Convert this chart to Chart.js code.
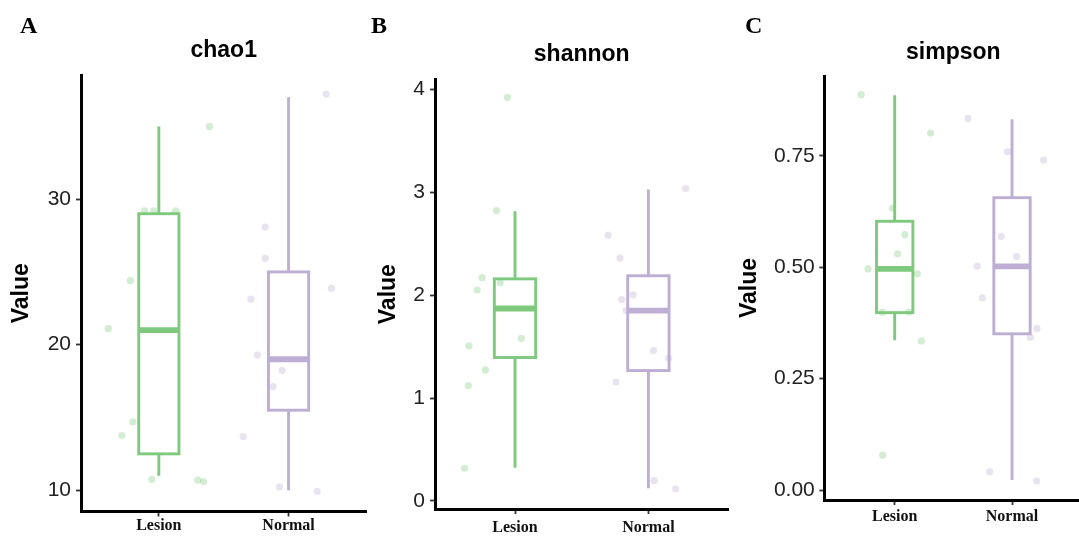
<!DOCTYPE html>
<html>
<head>
<meta charset="utf-8">
<script src="https://cdn.jsdelivr.net/npm/chart.js@4.4.1/dist/chart.umd.min.js"></script>
<style>
html,body{margin:0;padding:0;background:#fff;overflow:hidden;width:1079px;height:536px;}
#wrap{position:relative;width:1079px;height:536px;overflow:hidden;background:#fff;}
canvas{position:absolute;top:0;}
.lab{position:absolute;font-family:'Liberation Serif','Times New Roman',serif;font-weight:bold;font-size:24px;line-height:24px;color:#000;}
</style>
</head>
<body>
<div id="wrap">
<canvas id="cA" width="370" height="536" style="left:0px;width:370px;height:536px"></canvas>
<canvas id="cB" width="360" height="536" style="left:372px;width:360px;height:536px"></canvas>
<canvas id="cC" width="352" height="536" style="left:734px;width:352px;height:536px"></canvas>
<div class="lab" style="left:20px;top:13px">A</div>
<div class="lab" style="left:371px;top:13px">B</div>
<div class="lab" style="left:745px;top:13px">C</div>
</div>
<script>
// ---------- DATA ----------
const categories = ['Lesion', 'Normal'];
const yTitle = 'Value';

// chao1
const chao1Lesion       = [35.0, 29.2, 29.2, 29.2, 24.4, 21.1, 14.7, 13.76, 10.75, 10.7, 10.6];
const chao1LesionJitter = [0.39, -0.11, -0.04, 0.13, -0.22, -0.39, -0.20, -0.285, -0.055, 0.30, 0.345];
const chao1Normal       = [37.22, 28.08, 25.93, 23.87, 23.13, 19.29, 18.22, 17.12, 13.69, 10.23, 9.93];
const chao1NormalJitter = [0.29, -0.18, -0.18, 0.33, -0.29, -0.24, -0.05, -0.12, -0.35, -0.07, 0.22];
// box stats: [min, q1, median, q3, max]
const chao1LesionBox = [11.0, 12.5, 21.0, 29.0, 35.0];
const chao1NormalBox = [10.0, 15.5, 19.0, 25.0, 37.0];
const chao1Ticks = [10, 20, 30];
const chao1TickLabels = ['10', '20', '30'];
const chao1Range = [8.54, 38.53];

// shannon
const shannonLesion       = [3.922, 2.822, 2.17, 2.12, 2.05, 1.58, 1.506, 1.273, 1.12, 0.318];
const shannonLesionJitter = [-0.057, -0.139, -0.247, -0.111, -0.284, 0.047, -0.346, -0.222, -0.35, -0.378];
const shannonNormal       = [3.036, 2.583, 2.36, 2.003, 1.957, 1.85, 1.461, 1.387, 1.156, 0.197, 0.117];
const shannonNormalJitter = [0.28, -0.302, -0.213, -0.115, -0.2, -0.167, 0.038, 0.152, -0.243, 0.043, 0.204];
const shannonLesionBox = [0.324, 1.394, 1.87, 2.158, 2.815];
const shannonNormalBox = [0.123, 1.267, 1.85, 2.188, 3.026];
const shannonTicks = [0, 1, 2, 3, 4];
const shannonTickLabels = ['0', '1', '2', '3', '4'];
const shannonRange = [-0.078, 4.097];

// simpson
const simpsonLesion       = [0.887, 0.801, 0.632, 0.573, 0.530, 0.496, 0.485, 0.399, 0.399, 0.3345, 0.0785];
const simpsonLesionJitter = [-0.286, 0.306, -0.02, 0.087, 0.025, -0.227, 0.193, -0.106, 0.121, 0.227, -0.103];
const simpsonNormal       = [0.834, 0.759, 0.7404, 0.5689, 0.524, 0.5022, 0.431, 0.3627, 0.3425, 0.041, 0.0202];
const simpsonNormalJitter = [-0.375, -0.039, 0.269, -0.092, 0.039, -0.297, -0.252, 0.213, 0.157, -0.19, 0.21];
const simpsonLesionBox = [0.336, 0.398, 0.4964, 0.603, 0.886];
const simpsonNormalBox = [0.0224, 0.3505, 0.5016, 0.656, 0.832];
const simpsonTicks = [0, 0.25, 0.5, 0.75];
const simpsonTickLabels = ['0.00', '0.25', '0.50', '0.75'];
const simpsonRange = [-0.0224, 0.929];

// ---------- STYLE ----------
const lineColors  = ['#7FC97F', '#BEAED4'];
const pointColors = ['rgba(127,201,127,0.34)', 'rgba(190,174,212,0.34)'];
const sansFont = "'Liberation Sans', Arial, Helvetica, sans-serif";
const serifFont = "'Liberation Serif', 'Times New Roman', serif";

function makeBoxPlugin(boxes) {
  return {
    id: 'boxplots',
    beforeDatasetsDraw(chart) {
      const ctx = chart.ctx;
      const xs = chart.scales.x, ys = chart.scales.y;
      const boxWidth = 0.31, lw = 2.9, mw = 5.8;
      boxes.forEach((b, i) => {
        const cx = xs.getPixelForValue(i + 1);
        const half = Math.abs(xs.getPixelForValue(i + 1 + boxWidth / 2) - cx);
        const pMin = ys.getPixelForValue(b[0]);
        const pQ1 = ys.getPixelForValue(b[1]);
        const pMed = ys.getPixelForValue(b[2]);
        const pQ3 = ys.getPixelForValue(b[3]);
        const pMax = ys.getPixelForValue(b[4]);
        ctx.save();
        ctx.strokeStyle = lineColors[i];
        ctx.lineWidth = lw;
        ctx.lineCap = 'butt';
        ctx.beginPath();
        ctx.moveTo(cx, pMax); ctx.lineTo(cx, pQ3);
        ctx.moveTo(cx, pQ1); ctx.lineTo(cx, pMin);
        ctx.stroke();
        ctx.fillStyle = '#ffffff';
        ctx.fillRect(cx - half, pQ3, 2 * half, pQ1 - pQ3);
        ctx.strokeRect(cx - half, pQ3, 2 * half, pQ1 - pQ3);
        ctx.lineWidth = mw;
        ctx.beginPath();
        ctx.moveTo(cx - half, pMed); ctx.lineTo(cx + half, pMed);
        ctx.stroke();
        ctx.restore();
      });
    }
  };
}

function pts(vals, jit, k) {
  return vals.map((v, j) => ({ x: k + jit[j], y: v }));
}

function makeChart(id, P) {
  const gridOpts = { drawOnChartArea: false, drawTicks: true, tickLength: 5, tickColor: '#333333', tickWidth: 1.8 };
  const borderOpts = { display: true, color: '#000000', width: 3 };
  new Chart(document.getElementById(id), {
    type: 'scatter',
    data: {
      datasets: [
        { label: categories[0], data: pts(P.lesion, P.lesionJitter, 1), backgroundColor: pointColors[0], borderWidth: 0, pointRadius: 3.6, pointHoverRadius: 3.6 },
        { label: categories[1], data: pts(P.normal, P.normalJitter, 2), backgroundColor: pointColors[1], borderWidth: 0, pointRadius: 3.6, pointHoverRadius: 3.6 }
      ]
    },
    plugins: [makeBoxPlugin([P.lesionBox, P.normalBox])],
    options: {
      responsive: false,
      animation: false,
      events: [],
      layout: { padding: { left: 0, right: P.padRight, top: 0, bottom: 0 } },
      plugins: {
        legend: { display: false },
        tooltip: { enabled: false },
        title: {
          display: true, text: P.title, fullSize: false, color: '#000',
          font: { family: sansFont, size: 23, weight: 'bold' },
          padding: { top: P.titleTop, bottom: P.titleBottom }
        }
      },
      scales: {
        x: {
          type: 'linear', min: 0.4, max: 2.6, bounds: 'data',
          afterBuildTicks: s => { s.ticks = categories.map((c, i) => ({ value: i + 1 })); },
          afterFit: s => { s.height = P.xHeight; },
          ticks: {
            callback: (v, i) => categories[i], autoSkip: false, maxRotation: 0,
            color: '#111', padding: P.xPad,
            font: { family: serifFont, size: 16, weight: 'bold' }
          },
          grid: gridOpts,
          border: borderOpts
        },
        y: {
          type: 'linear', min: P.range[0], max: P.range[1], bounds: 'data',
          afterBuildTicks: s => { s.ticks = P.ticks.map(v => ({ value: v })); },
          afterFit: s => { s.width = P.yWidth; },
          ticks: {
            callback: (v, i) => P.tickLabels[i], autoSkip: false,
            color: '#222', padding: P.yPad,
            font: { family: sansFont, size: 21 }
          },
          title: {
            display: true, text: yTitle, color: '#000',
            font: { family: sansFont, size: 23, weight: 'bold' },
            padding: { top: P.yTitlePad, bottom: 0 }
          },
          grid: gridOpts,
          border: borderOpts
        }
      }
    }
  });
}

makeChart('cA', {
  title: 'chao1',
  lesion: chao1Lesion, lesionJitter: chao1LesionJitter, normal: chao1Normal, normalJitter: chao1NormalJitter,
  lesionBox: chao1LesionBox, normalBox: chao1NormalBox,
  ticks: chao1Ticks, tickLabels: chao1TickLabels, range: chao1Range,
  padRight: 1, titleTop: 36.8, titleBottom: 10.6, xHeight: 24.5, xPad: 0, yWidth: 81, yPad: 5, yTitlePad: 7.9
});
makeChart('cB', {
  title: 'shannon',
  lesion: shannonLesion, lesionJitter: shannonLesionJitter, normal: shannonNormal, normalJitter: shannonNormalJitter,
  lesionBox: shannonLesionBox, normalBox: shannonNormalBox,
  ticks: shannonTicks, tickLabels: shannonTickLabels, range: shannonRange,
  padRight: 0, titleTop: 40.9, titleBottom: 10.8, xHeight: 27, xPad: 4, yWidth: 63, yPad: 5, yTitlePad: 2.5
});
makeChart('cC', {
  title: 'simpson',
  lesion: simpsonLesion, lesionJitter: simpsonLesionJitter, normal: simpsonNormal, normalJitter: simpsonNormalJitter,
  lesionBox: simpsonLesionBox, normalBox: simpsonNormalBox,
  ticks: simpsonTicks, tickLabels: simpsonTickLabels, range: simpsonRange,
  padRight: 0, titleTop: 39.2, titleBottom: 9.2, xHeight: 36, xPad: 2, yWidth: 90.3, yPad: 4.5, yTitlePad: 2.2
});
</script>
</body>
</html>
